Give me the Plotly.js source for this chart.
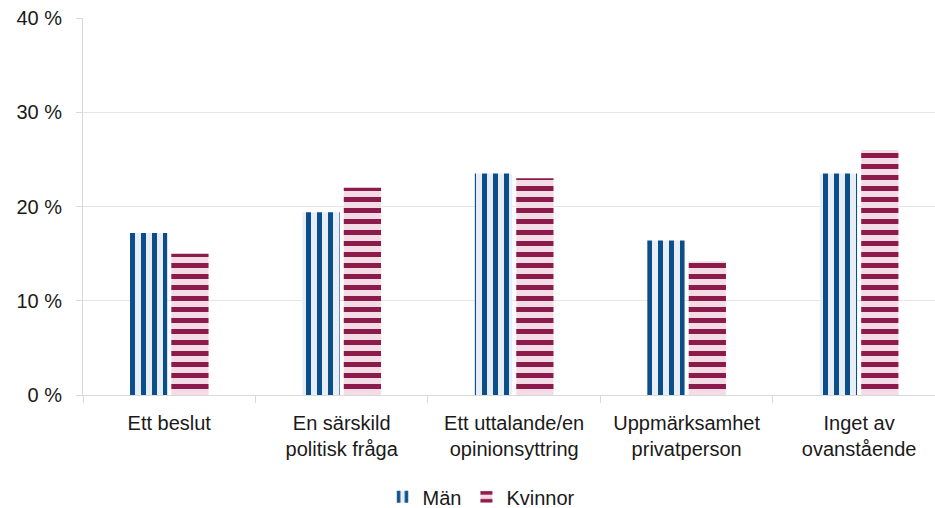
<!DOCTYPE html>
<html><head><meta charset="utf-8">
<script src="https://cdn.plot.ly/plotly-3.0.1.min.js"></script>
<style>html,body{margin:0;padding:0;background:#fff}#chart{width:935px;height:508px}</style>
</head><body><div id="chart"></div>
<script>
const categories = ["Ett beslut", "En särskild<br>politisk fråga", "Ett uttalande/en<br>opinionsyttring", "Uppmärksamhet<br>privatperson", "Inget av<br>ovanstående"];
const man = [17.2, 19.4, 23.5, 16.4, 23.5];
const kvinnor = [15.0, 22.0, 23.0, 14.2, 26.0];
const yTicks = [0, 10, 20, 30, 40];

const traces = [
  {type: "bar", name: "Män", x: categories, y: man,
   marker: {color: "#E8EEF6", line: {width: 0},
     pattern: {shape: "|", size: 11, solidity: 0.45, fgcolor: "#0C4E8C", bgcolor: "#E8EEF6", fillmode: "replace"}},
   hoverinfo: "y"},
  {type: "bar", name: "Kvinnor", x: categories, y: kvinnor,
   marker: {color: "#F3DCE5", line: {width: 0},
     pattern: {shape: "-", size: 11, solidity: 0.45, fgcolor: "#8C1A4B", bgcolor: "#F3DCE5", fillmode: "replace"}},
   hoverinfo: "y"}
];

const font = {family: "Liberation Sans, Arial, Helvetica, sans-serif", size: 20, color: "#1a1a1a"};

const layout = {
  width: 935, height: 508,
  margin: {l: 83, r: 0, t: 18, b: 113},
  paper_bgcolor: "#fff", plot_bgcolor: "#fff",
  font: font,
  barmode: "group", bargap: 0.52, bargroupgap: 0.1,
  showlegend: true,
  legend: {orientation: "h", xref: "container", yref: "container", x: 0.515, xanchor: "center", y: 0.022, yanchor: "middle",
    font: font, itemwidth: 30, tracegroupgap: 0},
  xaxis: {range: [-0.5, 4.44], showline: true, linecolor: "#d9d9d9", linewidth: 1,
    ticks: "outside", tickson: "boundaries", ticklen: 7, tickcolor: "#d9d9d9",
    showgrid: false, tickfont: font, ticklabelstandoff: 10, fixedrange: true},
  yaxis: {range: [0, 40], tickvals: yTicks, ticktext: yTicks.map(v => v + " %"),
    showline: true, linecolor: "#d9d9d9", linewidth: 1,
    ticks: "outside", ticklen: 6, tickcolor: "#d9d9d9",
    showgrid: true, gridcolor: "#e6e6e6", gridwidth: 1, zeroline: false,
    tickfont: font, ticklabelstandoff: 10, fixedrange: true}
};

Plotly.newPlot("chart", traces, layout, {displayModeBar: false, staticPlot: true});
</script></body></html>
